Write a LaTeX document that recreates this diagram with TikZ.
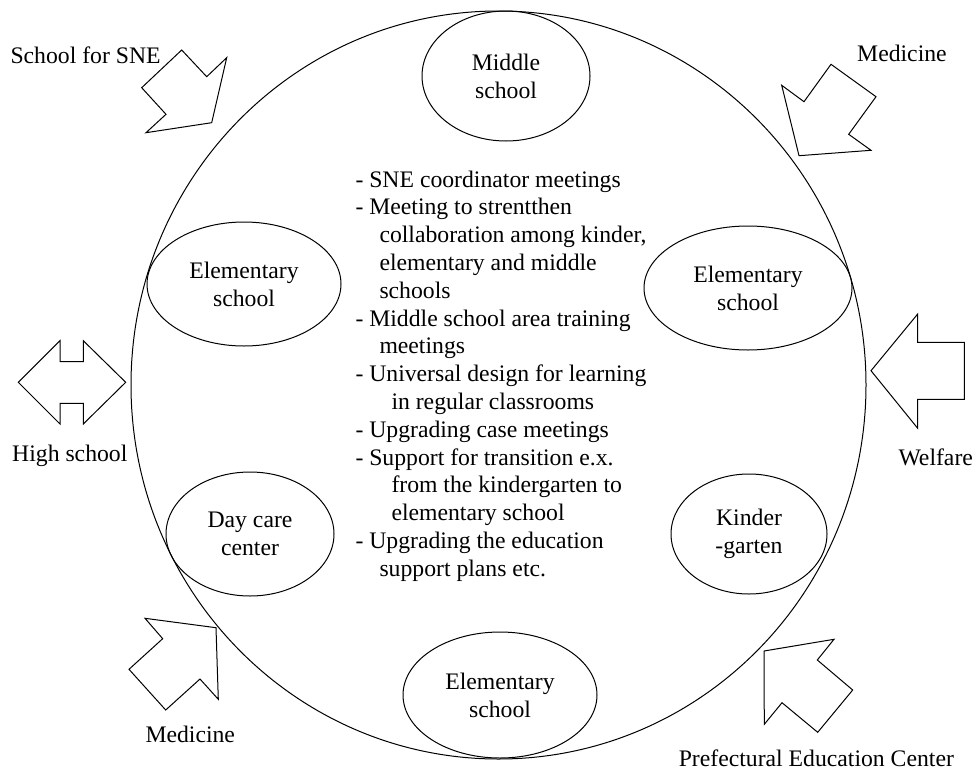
\documentclass[tikz,border=0pt]{standalone}
\usepackage{fontspec}
\setmainfont{Liberation Serif}
\usetikzlibrary{shapes.geometric}

\begin{document}
\begin{tikzpicture}[x=1pt, y=-1pt, line width=1pt,
    font=\fontsize{23.7}{27.8}\selectfont,
    school/.style={draw, ellipse, inner sep=0pt, align=center},
    lbl/.style={anchor=base west, inner sep=0pt}]
    \useasboundingbox (0,0) rectangle (974,771);

    % Big circle
    \draw (498.5,385) ellipse [x radius=367.5pt, y radius=374pt];

    % Schools
    \foreach \id/\cx/\cy/\w/\h/\txt in {
        middle/506/76/168/130/{Middle\\school},
        elemw/244/284/194/124/{Elementary\\school},
        eleme/748/288/208/124/{Elementary\\school},
        daycare/250/534/168/124/{Day care\\center},
        kinder/749/534/156/120/{Kinder\\-garten},
        elems/500/695/194/126/{Elementary\\school}} {
        \node[school, minimum width=\w*1pt, minimum height=\h*1pt] (\id) at (\cx,\cy) {\txt};
    }

    % Activities
    \node[align=left, anchor=west, inner sep=0pt] (tasks) at (355,376) {- SNE coordinator meetings\\
        - Meeting to strentthen\\
        \hspace*{24pt}collaboration among kinder,\\
        \hspace*{24pt}elementary and middle\\
        \hspace*{24pt}schools\\
        - Middle school area training\\
        \hspace*{24pt}meetings\\
        - Universal design for learning\\
        \hspace*{36pt}in regular classrooms\\
        - Upgrading case meetings\\
        - Support for transition e.x.\\
        \hspace*{36pt}from the kindergarten to\\
        \hspace*{36pt}elementary school\\
        - Upgrading the education\\
        \hspace*{24pt}support plans etc.};

    % Block arrows
    \draw (181.7,50) -- (206.7,76.7) -- (226.7,57.7) -- (211.7,122.7) -- (146,132.7) -- (166,114.3) -- (141.7,87.7) -- cycle;
    \draw (831,64.3) -- (876,96.7) -- (848.7,134.3) -- (871,150.3) -- (799,155.7) -- (781.7,85.3) -- (804,101.7) -- cycle;
    \draw (18.3,382.3) -- (60,340.7) -- (60,361.7) -- (83.3,361.7) -- (83.3,340.7) -- (125.7,382.3) -- (83.3,424) -- (83.3,403.3) -- (60,403.3) -- (60,424) -- cycle;
    \draw (871,370.7) -- (917.7,314) -- (917.7,342.3) -- (964.3,342.3) -- (964.3,399.3) -- (917.7,399.3) -- (917.7,428.3) -- cycle;
    \draw (145,618.3) -- (216,627.7) -- (218.3,699.3) -- (200,679) -- (165.7,710) -- (129,669.3) -- (162.7,638.7) -- cycle;
    \draw (764,651) -- (834,639.3) -- (817.3,660) -- (852.7,690) -- (817.7,732.3) -- (782,702.7) -- (764.3,724.3) -- cycle;

    % Partners
    \node[lbl] (sne) at (10,63.3) {School for SNE};
    \node[lbl] (medne) at (856.7,61) {Medicine};
    \node[lbl] (high) at (11.7,461.7) {High school};
    \node[lbl] (welfare) at (898,465) {Welfare};
    \node[lbl] (medsw) at (145,742.7) {Medicine};
    \node[lbl] (pref) at (678.3,766.7) {Prefectural Education Center};
\end{tikzpicture}
\end{document}
